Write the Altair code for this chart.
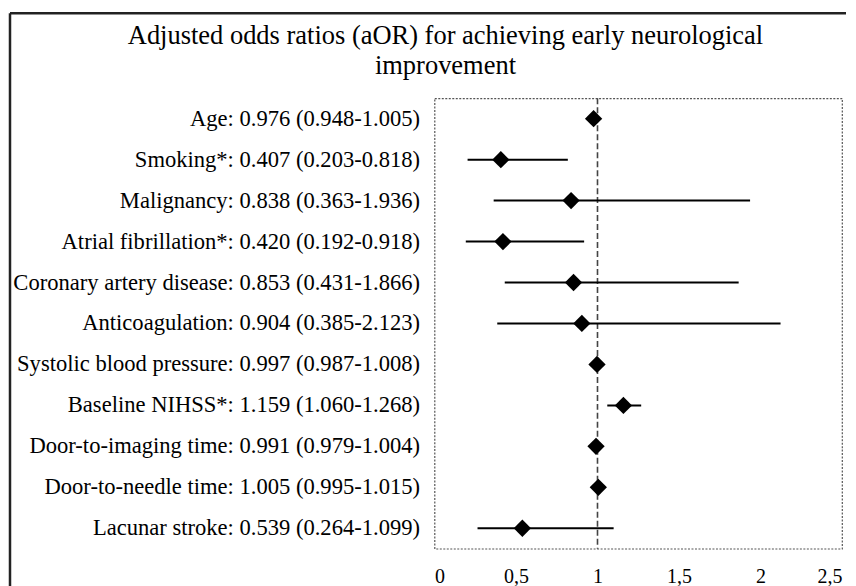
import altair as alt
import pandas as pd

names = ["Age", "Smoking*", "Malignancy", "Atrial fibrillation*", "Coronary artery disease",
         "Anticoagulation", "Systolic blood pressure", "Baseline NIHSS*", "Door-to-imaging time",
         "Door-to-needle time", "Lacunar stroke"]
aor = [0.976, 0.407, 0.838, 0.420, 0.853, 0.904, 0.997, 1.159, 0.991, 1.005, 0.539]
lo = [0.948, 0.203, 0.363, 0.192, 0.431, 0.385, 0.987, 1.060, 0.979, 0.995, 0.264]
hi = [1.005, 0.818, 1.936, 0.918, 1.866, 2.123, 1.008, 1.268, 1.004, 1.015, 1.099]
x_ticks = [0, 0.5, 1, 1.5, 2, 2.5]
title_lines = ["Adjusted odds ratios (aOR) for achieving early neurological", "improvement"]

labels = [f"{n}: {a:.3f} ({l:.3f}-{h:.3f})" for n, a, l, h in zip(names, aor, lo, hi)]
df = pd.DataFrame({"label": labels, "aor": aor, "lo": lo, "hi": hi})

FONT = "Liberation Serif"
W, H = 408, 451

x_scale = alt.Scale(domain=[0, 2.5], nice=False, zero=True)
y_enc = alt.Y("label:N", sort=labels, title=None,
              scale=alt.Scale(paddingInner=0, paddingOuter=0),
              axis=alt.Axis(domain=False, ticks=False, labelFont=FONT, labelFontSize=22.6,
                            labelColor="black", labelPadding=15, labelLimit=600))
x_axis = alt.Axis(values=x_ticks, domain=False, ticks=False, grid=False,
                  labelFont=FONT, labelFontSize=20, labelColor="black", labelPadding=18,
                  labelExpr="replace(toString(datum.value), '.', ',')")

base = alt.Chart(df)

bars = base.mark_rule(color="black", strokeWidth=2).encode(
    x=alt.X("lo:Q", scale=x_scale, axis=x_axis, title=None),
    x2="hi:Q",
    y=y_enc,
)
points = base.mark_point(shape="diamond", filled=True, color="black", size=300, opacity=1).encode(
    x=alt.X("aor:Q", scale=x_scale),
    y=alt.Y("label:N", sort=labels),
)
ref = alt.Chart(pd.DataFrame({"ref": [1]})).mark_rule(
    color="#444", strokeWidth=1.6, strokeDash=[6, 3]).encode(x=alt.X("ref:Q", scale=x_scale))

frame_df = pd.DataFrame({"k": [0]})
frame_top = alt.Chart(frame_df).mark_rule(color="#222", strokeWidth=2.5).encode(
    x=alt.value(-425), x2=alt.value(412), y=alt.value(-85), y2=alt.value(-85))
frame_left = alt.Chart(frame_df).mark_rule(color="#222", strokeWidth=2.5).encode(
    x=alt.value(-425), x2=alt.value(-425), y=alt.value(-85), y2=alt.value(495))

chart = alt.layer(ref, bars, points, frame_top, frame_left).properties(
    width=W, height=H,
    padding={"left": 0, "top": 3, "right": 0, "bottom": 0},
    title=alt.TitleParams(text=title_lines, font=FONT, fontSize=26.5, fontWeight="normal",
                          color="black", anchor="middle", frame="group", dx=-193,
                          offset=0, dy=67, lineHeight=30),
).configure_view(stroke="#555", strokeWidth=1.2, strokeDash=[2, 1.5])

chart.save("out.html", embed_options={"renderer": "svg", "actions": False})
